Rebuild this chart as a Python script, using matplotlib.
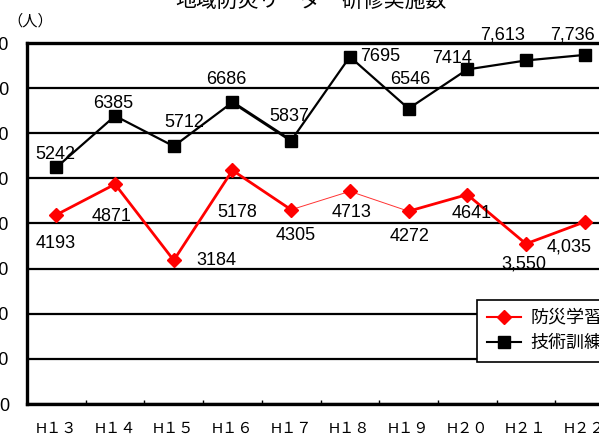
import matplotlib
matplotlib.use("Agg")
import matplotlib.pyplot as plt
from matplotlib.ticker import FixedLocator, MultipleLocator

plt.rcParams['font.family'] = ['Liberation Sans', 'Noto Sans CJK JP', 'DejaVu Sans']

# ---- data ----
categories = ["H１３", "H１４", "H１５", "H１６", "H１７", "H１８", "H１９", "H２０", "H２１", "H２２"]
bousai = [4193, 4871, 3184, 5178, 4305, 4713, 4272, 4641, 3550, 4035]
gijutsu = [5242, 6385, 5712, 6686, 5837, 7695, 6546, 7414, 7613, 7736]
bousai_comma = [False, False, False, False, False, False, False, False, True, True]
gijutsu_comma = [False, False, False, False, False, False, False, False, True, True]
series_names = ["防災学習", "技術訓練"]
title = "地域防災リーダー研修実施数"
unit = "（人）"

# ---- styling (pixel offsets for labels) ----
red_off = [(-1, -29), (-3, -32), (43, 0), (5, -42), (5, -26), (2, -21), (1, -25), (4, -19), (-2, -20), (-16, -25)]
blk_off = [(-1, 13), (-2, 12), (11, 24), (-6, 23), (-2, 24), (30, 0), (2, 29), (-15, 11), (-23, 25), (-12, 20)]
red_lw = [2.0, 2.0, 2.0, 2.0, 0.7, 0.7, 2.0, 2.0, 2.0]
blk_lw = [1.6, 1.6, 1.6, 2.2, 1.6, 1.6, 1.6, 1.6, 1.6]

W, H = 599, 436
fig = plt.figure(figsize=(W / 100, H / 100), dpi=100)
ax_left, ax_right, ax_top, ax_bot = 27, 614, 43, 404
ax = fig.add_axes([ax_left / W, 1 - ax_bot / H, (ax_right - ax_left) / W, (ax_bot - ax_top) / H])

x = list(range(len(categories)))
RED = "#ff0000"

# lines
for i in range(len(x) - 1):
    ax.plot(x[i:i + 2], gijutsu[i:i + 2], color="black", lw=blk_lw[i], zorder=3, solid_capstyle='butt')
    ax.plot(x[i:i + 2], bousai[i:i + 2], color=RED, lw=red_lw[i], zorder=3, solid_capstyle='butt',
            alpha=1.0 if red_lw[i] > 1 else 0.8)
ax.plot(x, gijutsu, ls="none", marker="s", ms=8, color="black", zorder=4)
ax.plot(x, bousai, ls="none", marker="D", ms=7.5, color=RED, zorder=4)

# legend proxies
h1, = ax.plot([], [], color=RED, lw=1.5, marker="D", ms=7)
h2, = ax.plot([], [], color="black", lw=1.5, marker="s", ms=8)

# data labels
for i in x:
    s = f"{bousai[i]:,}" if bousai_comma[i] else f"{bousai[i]}"
    ax.annotate(s, (x[i], bousai[i]), xytext=(red_off[i][0] * 0.72, red_off[i][1] * 0.72),
                textcoords="offset points", ha="center", va="center", fontsize=13, zorder=5)
    s = f"{gijutsu[i]:,}" if gijutsu_comma[i] else f"{gijutsu[i]}"
    ax.annotate(s, (x[i], gijutsu[i]), xytext=(blk_off[i][0] * 0.72, blk_off[i][1] * 0.72),
                textcoords="offset points", ha="center", va="center", fontsize=13, zorder=5)

ax.set_xlim(-0.5, len(categories) - 0.5)
ax.set_ylim(0, 8000)
ax.yaxis.set_major_locator(MultipleLocator(1000))
ax.grid(axis="y", color="black", lw=1.6)
ax.set_axisbelow(True)
ax.set_xticks(x)
ax.set_xticklabels(categories, fontsize=11)
ax.xaxis.set_minor_locator(FixedLocator([i + 0.5 for i in x[:-1]]))
ax.tick_params(axis="x", which="major", length=0, pad=13)
ax.tick_params(axis="x", which="minor", direction="in", length=3, width=1)
ax.tick_params(axis="y", length=0, pad=13, labelsize=13)
for sp in ["left", "bottom", "top"]:
    ax.spines[sp].set_linewidth(2.4)
ax.spines["right"].set_visible(False)

leg = fig.legend([h1, h2], series_names, loc="upper left",
                 bbox_to_anchor=(477 / W, 1 - 300 / H), fontsize=13, frameon=True,
                 fancybox=False, handlelength=1.9, handletextpad=0.5, borderpad=0.55,
                 labelspacing=0.45, borderaxespad=0)
leg.get_frame().set_edgecolor("black")
leg.get_frame().set_linewidth(1.2)
leg.get_frame().set_alpha(1)

fig.text(311 / W, 1 - 1 / H, title, ha="center", va="center", fontsize=15)
fig.text(30 / W, 1 - 21 / H, unit, ha="center", va="center", fontsize=11)

fig.savefig("out.png", dpi=100)
